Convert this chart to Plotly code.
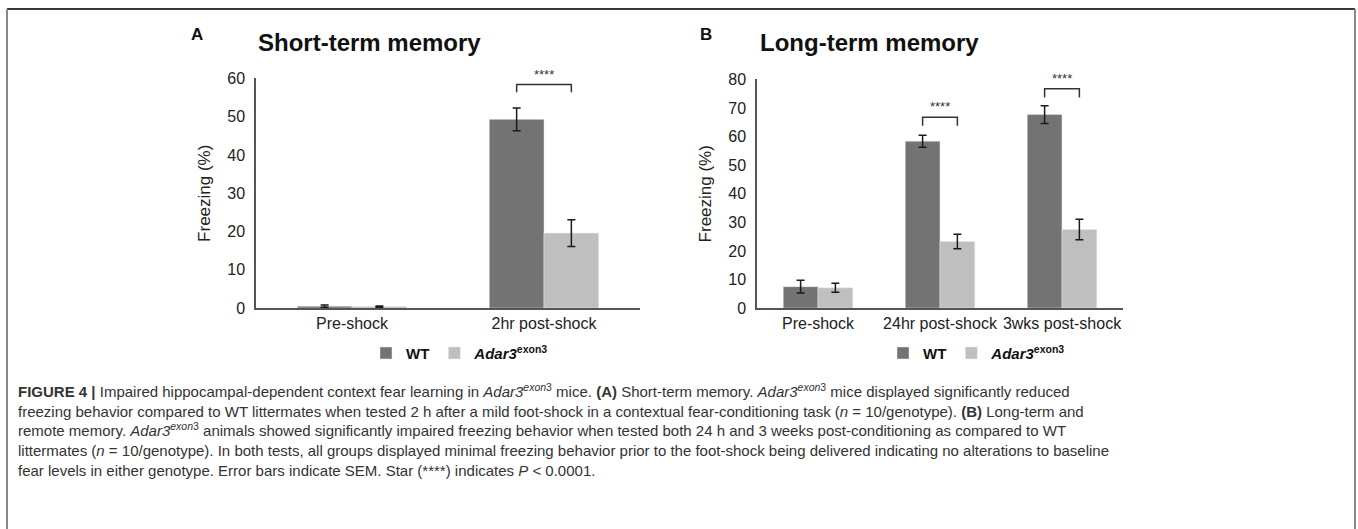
import plotly.graph_objects as go

# ---------------- data ----------------
cats_a = ["Pre-shock", "2hr post-shock"]
wt_a = [0.5, 49.3]
wt_a_err = [0.3, 3.0]
adar_a = [0.4, 19.6]
adar_a_err = [0.15, 3.5]
sig_a_cats = [1]
sig_a_level = [58.4]

cats_b = ["Pre-shock", "24hr post-shock", "3wks post-shock"]
wt_b = [7.5, 58.4, 67.7]
wt_b_err = [2.2, 2.1, 3.1]
adar_b = [7.1, 23.3, 27.5]
adar_b_err = [1.6, 2.5, 3.6]
sig_b_cats = [1, 2]
sig_b_level = [66.8, 76.7]

series_names = ["<b>WT</b>", "<b><i>Adar3</i><sup>exon3</sup></b>"]
sig_text = "****"

# ---------------- style ----------------
W, H = 1358, 529
C_WT = "#737373"
C_AD = "#bfbfbf"
FONT = "Liberation Sans, Arial, sans-serif"
CAP_FONT = "Liberation Sans, Arial, sans-serif"
BARGAP = 0.43
# vertical calibration of the photographed page (picture_y = SC * page_y + OFF)
SC = 0.965
OFF = 8.8


def px_x(p):
    return p / W


def px_y(p):
    return 1 - ((p - OFF) / SC) / H


fig = go.Figure()

err_style = dict(type="data", color="#1a1a1a", thickness=1.5, width=4, visible=True)

# Panel A
fig.add_trace(go.Bar(x=cats_a, y=wt_a, name=series_names[0], marker_color=C_WT,
                     error_y=dict(array=wt_a_err, **err_style),
                     xaxis="x", yaxis="y", legend="legend"))
fig.add_trace(go.Bar(x=cats_a, y=adar_a, name=series_names[1], marker_color=C_AD,
                     error_y=dict(array=adar_a_err, **err_style),
                     xaxis="x", yaxis="y", legend="legend"))
# Panel B
fig.add_trace(go.Bar(x=cats_b, y=wt_b, name=series_names[0], marker_color=C_WT,
                     error_y=dict(array=wt_b_err, **err_style),
                     xaxis="x2", yaxis="y2", legend="legend2"))
fig.add_trace(go.Bar(x=cats_b, y=adar_b, name=series_names[1], marker_color=C_AD,
                     error_y=dict(array=adar_b_err, **err_style),
                     xaxis="x2", yaxis="y2", legend="legend2"))

axis_common = dict(showgrid=False, zeroline=False, showline=True, linecolor="#555555",
                   linewidth=1.5, ticks="", tickfont=dict(family=FONT, size=16, color="#222222"))

fig.update_layout(
    width=W, height=H, autosize=False,
    margin=dict(l=0, r=0, t=0, b=0),
    paper_bgcolor="white", plot_bgcolor="white",
    barmode="group", bargap=BARGAP, bargroupgap=0,
    font=dict(family=FONT, color="#222222"),
    xaxis=dict(domain=[px_x(256), px_x(640)], anchor="y", type="category",
               ticklabelstandoff=0, **axis_common),
    yaxis=dict(domain=[px_y(308), px_y(79)], anchor="x", range=[0, 60], dtick=10,
               ticklabelstandoff=6,
               title=dict(text="Freezing (%)", font=dict(family=FONT, size=17, color="#222222"),
                          standoff=12),
               **axis_common),
    xaxis2=dict(domain=[px_x(757), px_x(1123)], anchor="y2", type="category",
                ticklabelstandoff=0, **axis_common),
    yaxis2=dict(domain=[px_y(308), px_y(80)], anchor="x2", range=[0, 80], dtick=10,
                ticklabelstandoff=6,
                title=dict(text="Freezing (%)", font=dict(family=FONT, size=17, color="#222222"),
                           standoff=12),
                **axis_common),
    legend=dict(orientation="h", x=px_x(366), y=px_y(353), xanchor="left", yanchor="middle",
                font=dict(family=FONT, size=15, color="#111111"), itemwidth=30,
                bgcolor="rgba(0,0,0,0)", itemclick=False, itemdoubleclick=False),
    legend2=dict(orientation="h", x=px_x(883), y=px_y(353), xanchor="left", yanchor="middle",
                 font=dict(family=FONT, size=15, color="#111111"), itemwidth=30,
                 bgcolor="rgba(0,0,0,0)", itemclick=False, itemdoubleclick=False),
    showlegend=True,
)

# significance brackets (computed from category index and bar layout)
half = (1 - BARGAP) / 4  # offset of each bar centre from the category centre
BR_H_A = 2.0
BR_H_B = 3.0
for xr, yr, cats_idx, levels, brh in [("x", "y", sig_a_cats, sig_a_level, BR_H_A),
                                      ("x2", "y2", sig_b_cats, sig_b_level, BR_H_B)]:
    for ci, lv in zip(cats_idx, levels):
        fig.add_shape(type="path", xref=xr, yref=yr,
                      path=f"M {ci - half},{lv - brh} L {ci - half},{lv} L {ci + half},{lv} L {ci + half},{lv - brh}",
                      line=dict(color="#333333", width=1.5))
        fig.add_annotation(x=ci, y=lv, xref=xr, yref=yr, text=sig_text, showarrow=False,
                           yanchor="bottom", yshift=1,
                           font=dict(family=FONT, size=13, color="#333333"))

# panel letters and titles
fig.add_annotation(x=px_x(197), y=px_y(35), xref="paper", yref="paper", text="<b>A</b>",
                   showarrow=False, xanchor="center", yanchor="middle",
                   font=dict(family=FONT, size=17, color="#111111"))
fig.add_annotation(x=px_x(256), y=px_y(43), xref="paper", yref="paper", text="<b>Short-term memory</b>",
                   showarrow=False, xanchor="left", yanchor="middle",
                   font=dict(family=FONT, size=24, color="#111111"))
fig.add_annotation(x=px_x(706), y=px_y(35), xref="paper", yref="paper", text="<b>B</b>",
                   showarrow=False, xanchor="center", yanchor="middle",
                   font=dict(family=FONT, size=17, color="#111111"))
fig.add_annotation(x=px_x(758), y=px_y(43), xref="paper", yref="paper", text="<b>Long-term memory</b>",
                   showarrow=False, xanchor="left", yanchor="middle",
                   font=dict(family=FONT, size=24, color="#111111"))

# caption, one annotation per line (anchored at the bottom so baselines are evenly spaced)
ad = "<i>Adar3</i><sup><i>exon</i>3</sup>"
caption_lines = [
    f"<b>FIGURE 4 |</b> Impaired hippocampal-dependent context fear learning in {ad} mice. <b>(A)</b> Short-term memory. {ad} mice displayed significantly reduced",
    "freezing behavior compared to WT littermates when tested 2 h after a mild foot-shock in a contextual fear-conditioning task (<i>n</i> = 10/genotype). <b>(B)</b> Long-term and",
    f"remote memory. {ad} animals showed significantly impaired freezing behavior when tested both 24 h and 3 weeks post-conditioning as compared to WT",
    "littermates (<i>n</i> = 10/genotype). In both tests, all groups displayed minimal freezing behavior prior to the foot-shock being delivered indicating no alterations to baseline",
    "fear levels in either genotype. Error bars indicate SEM. Star (****) indicates <i>P</i> &lt; 0.0001.",
]
CAP_BASE0 = 397
CAP_PITCH = 19.7
CAP_DESC = 4.5
for i, line in enumerate(caption_lines):
    fig.add_annotation(x=px_x(16), y=px_y(CAP_BASE0 + i * CAP_PITCH + CAP_DESC), xref="paper", yref="paper",
                       text=line, showarrow=False, xanchor="left", yanchor="bottom", align="left",
                       font=dict(family=CAP_FONT, size=15, color="#333333"))

# frame lines
TOP = px_y(max(8, OFF + SC))
fig.add_shape(type="line", xref="paper", yref="paper", x0=px_x(7), x1=px_x(1355), y0=TOP, y1=TOP,
              line=dict(color="#3a3a3a", width=2))
fig.add_shape(type="line", xref="paper", yref="paper", x0=px_x(7), x1=px_x(7), y0=TOP, y1=-0.05,
              line=dict(color="#888888", width=2))
fig.add_shape(type="line", xref="paper", yref="paper", x0=px_x(1355), x1=px_x(1355), y0=TOP, y1=-0.05,
              line=dict(color="#888888", width=2))

post = ("document.documentElement.style.margin='0';document.body.style.margin='0';"
        "document.documentElement.style.overflow='hidden';document.body.style.overflow='hidden';"
        "var d=document.getElementById('{plot_id}');d.style.position='fixed';d.style.top='0px';d.style.left='0px';")
fig.write_html("out.html", config={"displayModeBar": False}, post_script=post)
